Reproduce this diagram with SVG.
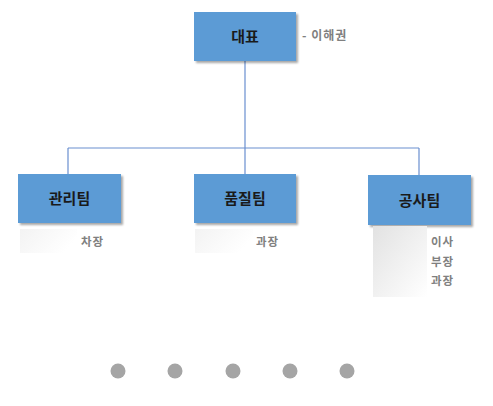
<svg xmlns="http://www.w3.org/2000/svg" width="493" height="406" viewBox="0 0 493 406">
<defs>
<linearGradient id="fade" x1="0" y1="0" x2="1" y2="1">
<stop offset="0" stop-color="#e2e2e2"/>
<stop offset="1" stop-color="#ffffff"/>
</linearGradient>
<linearGradient id="fadeH" x1="0" y1="0" x2="1" y2="0.4">
<stop offset="0" stop-color="#f3f3f3"/>
<stop offset="1" stop-color="#ffffff"/>
</linearGradient>
<filter id="sh" x="-10%" y="-10%" width="130%" height="130%">
<feGaussianBlur in="SourceAlpha" stdDeviation="1"/>
<feOffset dx="1.5" dy="1.5"/>
<feComponentTransfer><feFuncA type="linear" slope="0.35"/></feComponentTransfer>
<feMerge><feMergeNode/><feMergeNode in="SourceGraphic"/></feMerge>
</filter>
</defs>
<style>
.box{fill:#5b9bd5;filter:url(#sh)}
.bt{font-family:"Noto Sans CJK KR","Noto Sans",sans-serif;font-size:15px;font-weight:bold;fill:#1a1a1a;text-anchor:middle;dominant-baseline:central}
.lb{font-family:"Noto Sans CJK KR","Noto Sans",sans-serif;font-size:11.5px;font-weight:bold;fill:#808080;dominant-baseline:central;letter-spacing:1px}
.lt{font-size:12px}
.ln{stroke:#6a8fd0;stroke-width:1.2;fill:none}
.dot{fill:#a5a5a5}
</style>
<g id="connectors">
<path class="ln" d="M245 61 V148 M68 148 H419 M68 148 V174 M245 148 V174 M419 148 V175"/>
</g>
<g id="node-ceo">
<rect class="box" x="194" y="12" width="102" height="49"/>
<text class="bt" x="245" y="35.5">대표</text>
<text class="lb lt" x="302" y="34.5">- 이해권</text>
</g>
<g id="node-admin">
<rect class="box" x="18" y="174" width="103" height="49"/>
<text class="bt" x="69.5" y="197.5">관리팀</text>
<rect x="20" y="229" width="57" height="24" fill="url(#fadeH)"/>
<text class="lb" x="81" y="241">차장</text>
</g>
<g id="node-quality">
<rect class="box" x="194" y="174" width="102" height="49"/>
<text class="bt" x="245" y="197.5">품질팀</text>
<rect x="195" y="229" width="58" height="24" fill="url(#fadeH)"/>
<text class="lb" x="256" y="241">과장</text>
</g>
<g id="node-construction">
<rect class="box" x="368" y="175" width="103" height="50"/>
<text class="bt" x="419.5" y="199">공사팀</text>
<rect x="373" y="226" width="54" height="71" fill="url(#fade)"/>
<text class="lb" x="431" y="241">이사</text>
<text class="lb" x="431" y="260.5">부장</text>
<text class="lb" x="431" y="280">과장</text>
</g>
<g id="dots">
<circle class="dot" cx="118" cy="371" r="7.5"/>
<circle class="dot" cx="175" cy="371" r="7.5"/>
<circle class="dot" cx="233" cy="371" r="7.5"/>
<circle class="dot" cx="290" cy="371" r="7.5"/>
<circle class="dot" cx="347" cy="371" r="7.5"/>
</g>
</svg>
